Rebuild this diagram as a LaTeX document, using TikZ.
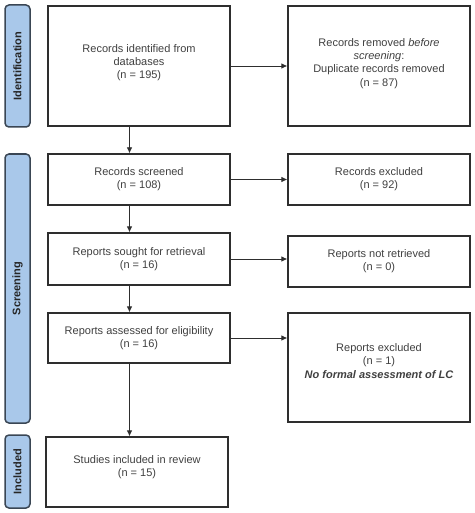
\documentclass[tikz,border=0pt]{standalone}
\usepackage{fontspec}
\setmainfont{Liberation Sans}
\usetikzlibrary{arrows.meta}
\definecolor{phasefill}{HTML}{A9C8EA}
\definecolor{phaseline}{HTML}{3A4654}
\definecolor{boxline}{HTML}{2E2E2E}
\definecolor{txt}{HTML}{404040}
\begin{document}
\begin{tikzpicture}[x=1pt,y=-1pt,
  box/.style={draw=boxline, line width=1.3pt, fill=white, align=center, inner sep=2pt,
    font=\fontsize{11}{13.2}\selectfont, text=txt},
  phase/.style={draw=phaseline, line width=1.5pt, fill=phasefill, rounded corners=4pt},
  phaselabel/.style={rotate=90, font=\bfseries\fontsize{11}{13}\selectfont, text=black!85},
  arr/.style={-{Latex[length=6pt,width=5.5pt]}, draw=boxline, line width=0.8pt}]
\useasboundingbox (0,0) rectangle (474,513);
% phase bars
\draw[phase] (5,5) rectangle (30,127);
\node[phaselabel] (pid) at (17.5,66) {Identification};
\draw[phase] (5,154) rectangle (30,423);
\node[phaselabel] (pscr) at (17.5,288.5) {Screening};
\draw[phase] (5,435) rectangle (30,508);
\node[phaselabel] (pinc) at (17.5,471.5) {Included};
% main boxes
\node[box, minimum width=182pt, minimum height=120pt] (ident) at (139,66)
  {Records identified from\\databases\\(n = 195)\\[-4pt]};
\node[box, minimum width=182pt, minimum height=120pt] (removed) at (379,66)
  {Records removed \textit{before}\\\textit{screening}:\\Duplicate records removed\\(n = 87)\\[-6pt]};
\node[box, minimum width=182pt, minimum height=51pt] (screened) at (139,179.5)
  {Records screened\\(n = 108)};
\node[box, minimum width=182pt, minimum height=51pt] (excl) at (379,179.5)
  {Records excluded\\(n = 92)};
\node[box, minimum width=182pt, minimum height=52pt] (sought) at (139,259)
  {Reports sought for retrieval\\(n = 16)};
\node[box, minimum width=182pt, minimum height=51pt] (notret) at (379,261.5)
  {Reports not retrieved\\(n = 0)};
\node[box, minimum width=182pt, minimum height=50pt] (assessed) at (139,338)
  {Reports assessed for eligibility\\(n = 16)};
\node[box, minimum width=182pt, minimum height=109pt] (rexcl) at (379,367.5)
  {Reports excluded\\(n = 1)\\\textbf{\textit{No formal assessment of LC}}\\[0pt]};
\node[box, minimum width=182pt, minimum height=70pt] (incl) at (137,472)
  {Studies included in review\\(n = 15)\\[-1pt]};
% column coordinate for vertical arrows
\coordinate (col) at (129.5,0);
\draw[arr] (ident.south -| col) -- (screened.north -| col);
\draw[arr] (screened.south -| col) -- (sought.north -| col);
\draw[arr] (sought.south -| col) -- (assessed.north -| col);
\draw[arr] (assessed.south -| col) -- (incl.north -| col);
% horizontal arrows
\draw[arr] (ident.east) -- (ident.east -| removed.west);
\draw[arr] (screened.east) -- (screened.east -| excl.west);
\draw[arr] (sought.east) -- (sought.east -| notret.west);
\draw[arr] (assessed.east) -- (assessed.east -| rexcl.west);
\end{tikzpicture}
\end{document}
